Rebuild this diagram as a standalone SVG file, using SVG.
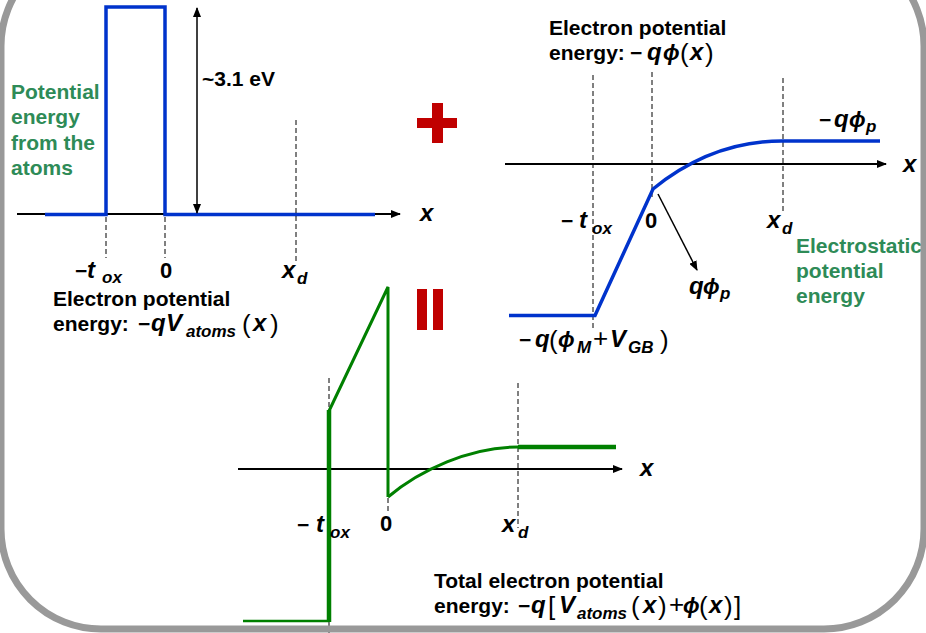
<svg xmlns="http://www.w3.org/2000/svg" width="926" height="633" viewBox="0 0 926 633">
<defs>
<marker id="arr" markerUnits="userSpaceOnUse" markerWidth="10" markerHeight="8" refX="9" refY="4" orient="auto-start-reverse"><path d="M0,0 L10,4 L0,8 z" fill="#000"/></marker>
<style>
.t{font-family:"Liberation Sans",Arial,sans-serif;font-weight:bold;font-size:21px;fill:#000}
.z{font-size:22px}
.g{fill:#2E8B57}
.m{font-family:"Liberation Sans",Arial,sans-serif;font-weight:bold;font-style:italic;font-size:24px;fill:#000}
.f{font-size:22px}
.s{font-size:17px}
.u{font-family:"Liberation Sans",Arial,sans-serif;font-weight:bold;font-size:21px;fill:#000}
.p{font-family:"Liberation Sans",Arial,sans-serif;font-weight:normal;font-size:26px;fill:#000}
.ax{stroke:#000;stroke-width:2;fill:none;marker-end:url(#arr)}
.d{stroke:#000;stroke-width:1;stroke-dasharray:5,3;fill:none}
.b{stroke:#0033CC;stroke-width:3.5;fill:none}
.gr{stroke:#008000;fill:none}
.red{fill:#C00000}
</style>
</defs>
<rect width="926" height="633" fill="#fff"/>

<g id="left-graph">
<line class="ax" x1="17" y1="214" x2="400" y2="214"/>
<path class="b" d="M45,214.5 H106 V7 H165 V214.5 H375" stroke-width="4"/>
<line x1="197" y1="8" x2="197" y2="213" stroke="#000" stroke-width="1.5" marker-start="url(#arr)" marker-end="url(#arr)"/>
<line class="d" x1="106" y1="217" x2="106" y2="258"/>
<line class="d" x1="165" y1="217" x2="165" y2="258"/>
<line class="d" x1="296" y1="120" x2="296" y2="262"/>
<text class="t" x="202" y="86">~3.1 eV</text>
<text class="m" x="420" y="221">x</text>
<text class="t g" x="11" y="98.5">Potential</text>
<text class="t g" x="11" y="124">energy</text>
<text class="t g" x="11" y="149.5">from the</text>
<text class="t g" x="11" y="175">atoms</text>
<text class="t" x="75" y="278">−</text>
<text class="m" x="87" y="278">t</text>
<text class="m s" x="102" y="283">ox</text>
<text class="t z" x="160" y="278">0</text>
<text class="m" x="282" y="278">x</text>
<text class="m s" x="297" y="284">d</text>
<text class="t" x="53" y="306">Electron potential</text>
<text class="t" x="53" y="331">energy:</text>
<text class="t" x="138" y="331">−</text>
<text class="m" x="151" y="331">q</text>
<text class="m" x="166" y="331">V</text>
<text class="m s" x="186" y="337">atoms</text>
<text class="p" x="242" y="333">(</text>
<text class="m" x="253" y="331">x</text>
<text class="p" x="270" y="333">)</text>
</g>

<g id="plus">
<rect class="red" x="417" y="118" width="40" height="10"/>
<rect class="red" x="432" y="103" width="11" height="40"/>
</g>

<g id="equals">
<rect class="red" x="417" y="289" width="10" height="41"/>
<rect class="red" x="433" y="289" width="10" height="41"/>
</g>

<g id="right-graph">
<line class="ax" x1="505" y1="164" x2="886" y2="164"/>
<line class="d" x1="593" y1="75" x2="593" y2="330"/>
<line class="d" x1="652" y1="72" x2="652" y2="200"/>
<line class="d" x1="783" y1="78" x2="783" y2="213"/>
<path class="b" d="M509,315.5 H595 L653,189 Q712,141 782,141 H880"/>
<line x1="658" y1="194" x2="697" y2="270" stroke="#000" stroke-width="1.5" marker-end="url(#arr)"/>
<text class="m" x="903" y="172">x</text>
<text class="t" x="549" y="35">Electron potential</text>
<text class="t" x="549" y="60">energy:</text>
<text class="t" x="630" y="60">−</text>
<text class="m" x="647" y="60">q</text>
<text class="m f" x="663" y="60">ϕ</text>
<text class="p" x="680" y="62">(</text>
<text class="m" x="690" y="60">x</text>
<text class="p" x="705" y="62">)</text>
<text class="t" x="819" y="127">−</text>
<text class="m" x="834" y="127">q</text>
<text class="m f" x="849" y="127">ϕ</text>
<text class="m s" x="866" y="132">p</text>
<text class="t" x="561" y="228">−</text>
<text class="m" x="579" y="228">t</text>
<text class="m s" x="592" y="234">ox</text>
<text class="t z" x="645" y="228">0</text>
<text class="m" x="767" y="228">x</text>
<text class="m s" x="782" y="234">d</text>
<text class="m" x="689" y="294">q</text>
<text class="m f" x="703" y="294">ϕ</text>
<text class="m s" x="720" y="299">p</text>
<text class="t" x="519" y="347">−</text>
<text class="m" x="535" y="347">q</text>
<text class="p" x="549" y="349">(</text>
<text class="m f" x="558" y="347">ϕ</text>
<text class="m s" x="577" y="353">M</text>
<text class="p" x="593" y="347">+</text>
<text class="m" x="610" y="347">V</text>
<text class="m s" x="628" y="353">GB</text>
<text class="p" x="660" y="349">)</text>
<text class="t g" x="796" y="253">Electrostatic</text>
<text class="t g" x="796" y="278">potential</text>
<text class="t g" x="796" y="303">energy</text>
</g>

<g id="bottom-graph">
<line class="ax" x1="238" y1="469" x2="622" y2="469"/>
<line class="d" x1="329" y1="378" x2="329" y2="410"/>
<line class="d" x1="329" y1="622" x2="329" y2="633"/>
<line class="d" x1="388" y1="498" x2="388" y2="513"/>
<line class="d" x1="518" y1="383" x2="518" y2="528"/>
<path class="gr" d="M243,621 H329" stroke-width="2.5"/>
<path class="gr" d="M329,622 V410" stroke-width="4.5"/>
<path class="gr" d="M329,411 L388,287 V497" stroke-width="3"/>
<path class="gr" d="M388,497 C420,470 470,447 518,447" stroke-width="3"/>
<path class="gr" d="M518,447 H616" stroke-width="4.5"/>
<text class="m" x="640" y="476">x</text>
<text class="t" x="297" y="532">−</text>
<text class="m" x="316" y="532">t</text>
<text class="m s" x="330" y="538">ox</text>
<text class="t z" x="380" y="531">0</text>
<text class="m" x="502" y="532">x</text>
<text class="m s" x="518" y="538">d</text>
<text class="u" x="434" y="588">Total electron potential</text>
<text class="u" x="434" y="613">energy:</text>
<text class="t" x="518" y="613">−</text>
<text class="m" x="531" y="613">q</text>
<text class="p" x="548" y="615">[</text>
<text class="m" x="559" y="613">V</text>
<text class="m s" x="577" y="619">atoms</text>
<text class="p" x="631" y="615">(</text>
<text class="m" x="643" y="613">x</text>
<text class="p" x="658" y="615">)</text>
<text class="p" x="669" y="613">+</text>
<text class="m f" x="683" y="613">ϕ</text>
<text class="p" x="699" y="615">(</text>
<text class="m" x="709" y="613">x</text>
<text class="p" x="724" y="615">)</text>
<text class="p" x="734" y="615">]</text>
</g>

<g id="frame">
<rect x="1" y="-54" width="923" height="683" rx="100" ry="100" fill="none" stroke="#999" stroke-width="7"/>
</g>
</svg>
